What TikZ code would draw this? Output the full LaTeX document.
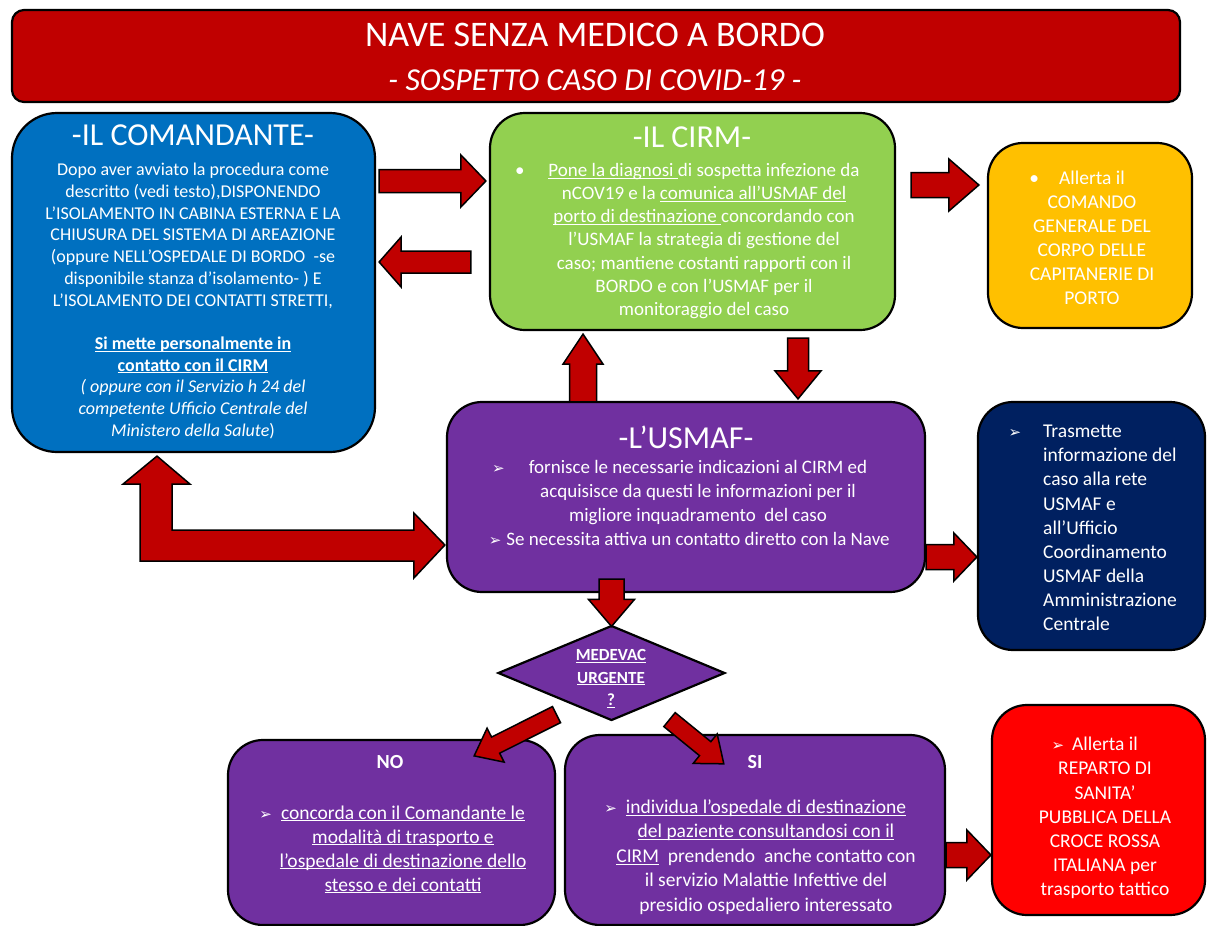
\documentclass[tikz,border=0pt]{standalone}
\usepackage{fontspec}
\setmainfont{Carlito}
\newfontfamily\dejavu{DejaVu Sans}
\usetikzlibrary{calc,shapes.geometric}
\definecolor{titlered}{HTML}{C00000}
\definecolor{cmdblue}{HTML}{0070C0}
\definecolor{cirmgreen}{HTML}{92D050}
\definecolor{alertyellow}{HTML}{FFC000}
\definecolor{usmafpurple}{HTML}{7030A0}
\definecolor{navyblue}{HTML}{002060}
\definecolor{brightred}{HTML}{FF0000}
\newcommand\fsz[2]{\fontsize{#1}{#2}\selectfont}
\newcommand\ulin[1]{\underline{\smash{#1}}}
\newcommand\arwb{{\dejavu\fontsize{15}{16}\selectfont ➢}}
\newcommand\blockarrow[5]{%
  \draw[barrow] let \p1=(#1), \p2=(#2),
    \n1={atan2(\y2-\y1,\x2-\x1)}, \n2={veclen(\x2-\x1,\y2-\y1)} in
    [shift={(\p1)},rotate=\n1]
    (0,#3) -- ({\n2-#5},#3) -- ({\n2-#5},#4) -- (\n2,0) -- ({\n2-#5},-#4)
    -- ({\n2-#5},-#3) -- (0,-#3) -- cycle;}
\begin{document}
\begin{tikzpicture}[x=1pt,y=-1pt,
  box/.style={draw=black, line width=2.2pt, rounded corners=#1, inner sep=0pt},
  box/.default=35pt,
  barrow/.style={draw=black, line width=1.5pt, fill=titlered, line join=miter},
  txt/.style={text=white, align=center, inner sep=0pt},
  ttl/.style={text=white, inner sep=0pt, font=\fsz{32}{36}}]
\useasboundingbox (0,0) rectangle (1208,926);

% boxes
\node[box=12pt, fill=titlered, minimum width=1168pt, minimum height=92pt] (title) at (596,56) {};
\node[box=45pt, fill=cmdblue, minimum width=363pt, minimum height=339pt] (cmd) at (193.5,282.5) {};
\node[box, fill=cirmgreen, minimum width=405pt, minimum height=217pt] (cirm) at (692.5,221.5) {};
\node[box, fill=alertyellow, minimum width=204pt, minimum height=185pt] (yel) at (1090,235.5) {};
\node[box, fill=usmafpurple, minimum width=478pt, minimum height=190pt] (usmaf) at (686,497) {};
\node[box, fill=navyblue, minimum width=227pt, minimum height=248pt] (navy) at (1091.5,526) {};
\node[draw=black, line width=2.2pt, fill=usmafpurple, diamond, inner sep=0pt,
      minimum width=227pt, minimum height=95pt] (dia) at (611.5,673) {};
\node[box, fill=usmafpurple, minimum width=327pt, minimum height=185pt] (no) at (391.5,832.5) {};
\node[box, fill=usmafpurple, minimum width=380pt, minimum height=190pt] (si) at (755,830) {};
\node[box, fill=brightred, minimum width=213pt, minimum height=210pt] (red) at (1098.5,810) {};

% title texts
\node[text=white, inner sep=0pt, font=\fsz{36}{40}] (t1) at (595,35) {NAVE SENZA MEDICO A BORDO};
\node[text=white, inner sep=0pt, font=\fsz{32}{36}\itshape] (t2) at (595,80) {- SOSPETTO CASO DI COVID-19 -};

% comandante
\node[ttl] (cmdt) at (193,135) {-IL COMANDANTE-};
\node[txt, font=\fsz{18}{21.7}] (cmdb) at (193,301) {%
Dopo aver avviato la procedura come\\
descritto (vedi testo),DISPONENDO\\
L’ISOLAMENTO IN CABINA ESTERNA E LA\\
CHIUSURA DEL SISTEMA DI AREAZIONE\\
(oppure NELL’OSPEDALE DI BORDO \ -se\\
disponibile stanza d’isolamento- ) E\\
L’ISOLAMENTO DEI CONTATTI STRETTI,\\[21.7pt]
\textbf{\ulin{Si mette personalmente in}}\\
\textbf{\ulin{contatto con il CIRM}}\\
\textit{( oppure con il Servizio h 24 del}\\
\textit{competente Ufficio Centrale del}\\
\textit{Ministero della Salute})};

% CIRM
\node[ttl] (cirmt) at (692,137) {-IL CIRM-};
\node[txt, font=\fsz{19}{23.2}] (cirmb) at (704,241) {%
\llap{•\hspace{24pt}}\ulin{Pone la diagnosi }di sospetta infezione da\\
nCOV19 e la \ulin{comunica all’USMAF del}\\
\ulin{porto di destinazione }concordando con\\
l’USMAF la strategia di gestione del\\
caso; mantiene costanti rapporti con il\\
BORDO e con l’USMAF per il\\
monitoraggio del caso};

% yellow
\node[txt, font=\fsz{19.5}{24}] (yelb) at (1092,238) {%
\llap{•\hspace{20pt}}Allerta il\\
COMANDO\\
GENERALE DEL\\
CORPO DELLE\\
CAPITANERIE DI\\
PORTO};

% USMAF
\node[ttl] (usmaft) at (686,437) {-L’USMAF-};
\node[txt, font=\fsz{19}{24.3}] (usmafb) at (698,503) {%
\llap{\arwb\hspace{24pt}}fornisce le necessarie indicazioni al CIRM ed\\
acquisisce da questi le informazioni per il\\
migliore inquadramento \ del caso\\
\llap{\arwb\hspace{5pt}}Se necessita attiva un contatto diretto con la Nave};

% navy
\node[text=white, align=left, inner sep=0pt, font=\fsz{19.5}{24.1}, anchor=west] (navyb) at (1043,528) {%
\llap{\arwb\hspace{22pt}}Trasmette\\
informazione del\\
caso alla rete\\
USMAF e\\
all’Ufficio\\
Coordinamento\\
USMAF della\\
Amministrazione\\
Centrale};

% diamond
\node[txt, font=\fsz{17}{22.5}\bfseries] (diat) at (611,684) {%
\ulin{MEDEVAC}\\ \ulin{URGENTE}\\ \ulin{?}};

% NO
\node[text=white, inner sep=0pt, font=\fsz{20}{24}\bfseries] (not) at (390,762) {NO};
\node[txt, font=\fsz{19.5}{24}] (nob) at (403,852) {%
\llap{\arwb\hspace{9pt}}\ulin{concorda con il Comandante le}\\
\ulin{modalità di trasporto e}\\
\ulin{l’ospedale di destinazione dello}\\
\ulin{stesso e dei contatti}};

% SI
\node[text=white, inner sep=0pt, font=\fsz{20}{24}\bfseries] (sit) at (755,762) {SI};
\node[txt, font=\fsz{19.5}{24.5}] (sib) at (766,860) {%
\llap{\arwb\hspace{9pt}}\ulin{individua l’ospedale di destinazione}\\
\ulin{del paziente consultandosi con il}\\
\ulin{CIRM} \ prendendo \ anche contatto con\\
il servizio Malattie Infettive del\\
presidio ospedaliero interessato};

% red
\node[txt, font=\fsz{19.5}{24.2}] (redb) at (1105,818) {%
\llap{\arwb\hspace{8pt}}Allerta il\\
REPARTO DI\\
SANITA’\\
PUBBLICA DELLA\\
CROCE ROSSA\\
ITALIANA per\\
trasporto tattico};

% arrow end points
\coordinate (a1s) at ($(cmd.east|-0,181)+(3,0)$);
\coordinate (a1e) at ($(cirm.west|-0,181)+(-3,0)$);
\coordinate (a2s) at ($(cirm.west|-0,262)+(-18,0)$);
\coordinate (a2e) at ($(cmd.east|-0,262)+(3,0)$);
\coordinate (a3s) at ($(cirm.east|-0,185)+(15,0)$);
\coordinate (a3e) at ($(yel.west|-0,185)+(-8,0)$);
\coordinate (a4s) at ($(usmaf.north-|583,0)+(0,1)$);
\coordinate (a4e) at ($(cirm.south-|583,0)+(0,3)$);
\coordinate (a5s) at ($(cirm.south-|798,0)+(0,7)$);
\coordinate (a5e) at ($(usmaf.north-|798,0)+(0,-2)$);
\coordinate (a6s) at (usmaf.east|-0,557);
\coordinate (a6e) at (navy.west|-0,557);
\coordinate (a7s) at ($(usmaf.south-|dia.north)+(0,-14)$);
\coordinate (a7e) at ($(dia.north)+(0,2)$);
\coordinate (a8s) at ($(dia.south)+(-55,-7)$);
\coordinate (a8e) at ($(no.north east)+(-82,17)$);
\coordinate (a9s) at ($(dia.south)+(58,-2)$);
\coordinate (a9e) at ($(si.north west)+(160,30)$);
\coordinate (a10s) at (si.east|-0,855);
\coordinate (a10e) at (red.west|-0,855);

\blockarrow{a1s}{a1e}{11.5}{26}{25}
\blockarrow{a2s}{a2e}{11}{25}{22}
\blockarrow{a3s}{a3e}{12.5}{26}{30}
\blockarrow{a4s}{a4e}{13.5}{20}{30}
\blockarrow{a5s}{a5e}{10.5}{23}{28}
\blockarrow{a6s}{a6e}{12.5}{24}{23}
\blockarrow{a7s}{a7e}{12.5}{23}{27}
\blockarrow{a8s}{a8e}{9}{19}{24}
\blockarrow{a9s}{a9e}{9}{19}{24}
\blockarrow{a10s}{a10e}{12.5}{25}{24}

% bent double arrow between Comandante and USMAF
\coordinate (bt) at ($(cmd.south-|157,0)+(0,3)$);
\coordinate (bh) at ($(usmaf.west|-0,545)+(-1,0)$);
\draw[barrow] (bt) -- ++(33,28) -- ++(-18,0) |- ($(bh)+(-31,-15)$) -- ++(0,-17) -- (bh)
  -- ++(-31,33) -- ++(0,-17) -| ($(bt)+(-17,28)$) -- ++(-17,0) -- cycle;
\end{tikzpicture}
\end{document}
